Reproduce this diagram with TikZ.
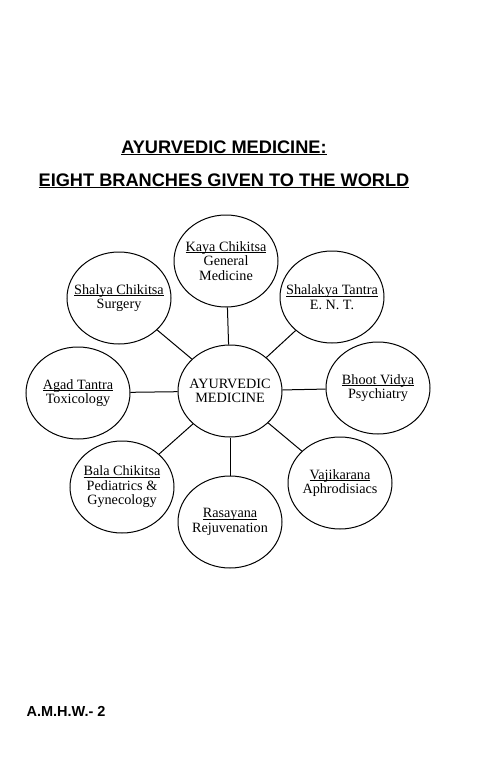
\documentclass[tikz,border=0pt]{standalone}
\usepackage{fontspec}
\setmainfont{Liberation Serif}
\newfontfamily\headfont{Liberation Sans}
\usetikzlibrary{shapes.geometric}
% underline that runs just below the baseline
\newcommand\branchname[1]{\setbox0\hbox{#1}\rlap{\rule[-1.6pt]{\wd0}{0.6pt}}\box0}

\begin{document}
\begin{tikzpicture}[x=1pt,y=-1pt,
  branch/.style={draw,line width=1pt,ellipse,minimum width=104pt,minimum height=92pt,
    inner xsep=-14pt,inner ysep=-12pt,align=center,font=\fontsize{14.2}{14.5}\selectfont},
  heading/.style={anchor=base,font=\headfont\bfseries\fontsize{18.2}{20}\selectfont},
  link/.style={line width=1pt}]
  \useasboundingbox (0,0) rectangle (500,772);

  % titles
  \node[heading] (title) at (224,153) {\underline{AYURVEDIC MEDICINE:}};
  \node[heading] (subtitle) at (224,186) {\underline{EIGHT BRANCHES GIVEN TO THE WORLD}};

  % hub and the eight branches
  \node[branch] (hub) at (230,391) {AYURVEDIC\\MEDICINE};
  \node[branch] (kaya) at (226,261) {\branchname{Kaya Chikitsa}\\General\\Medicine};
  \node[branch] (shalya) at (119,298) {\branchname{Shalya Chikitsa}\\Surgery};
  \node[branch] (shalakya) at (332,297) {\branchname{Shalakya Tantra}\\E. N. T.};
  \node[branch] (agad) at (78,393) {\branchname{Agad Tantra}\\Toxicology};
  \node[branch] (bhoot) at (378,388) {\branchname{Bhoot Vidya}\\Psychiatry};
  \node[branch] (bala) at (122,487) {\branchname{Bala Chikitsa}\\Pediatrics \&\\Gynecology};
  \node[branch] (rasayana) at (230,522) {\branchname{Rasayana}\\Rejuvenation};
  \node[branch] (vaji) at (340,483) {\branchname{Vajikarana}\\Aphrodisiacs};

  \foreach \b in {kaya,shalya,shalakya,agad,bhoot,bala,rasayana,vaji}
    \draw[link] (hub) -- (\b);

  \node[anchor=base west,font=\headfont\bfseries\fontsize{14.5}{16}\selectfont] (code) at (23,716) {A.M.H.W.- 2};
\end{tikzpicture}
\end{document}
